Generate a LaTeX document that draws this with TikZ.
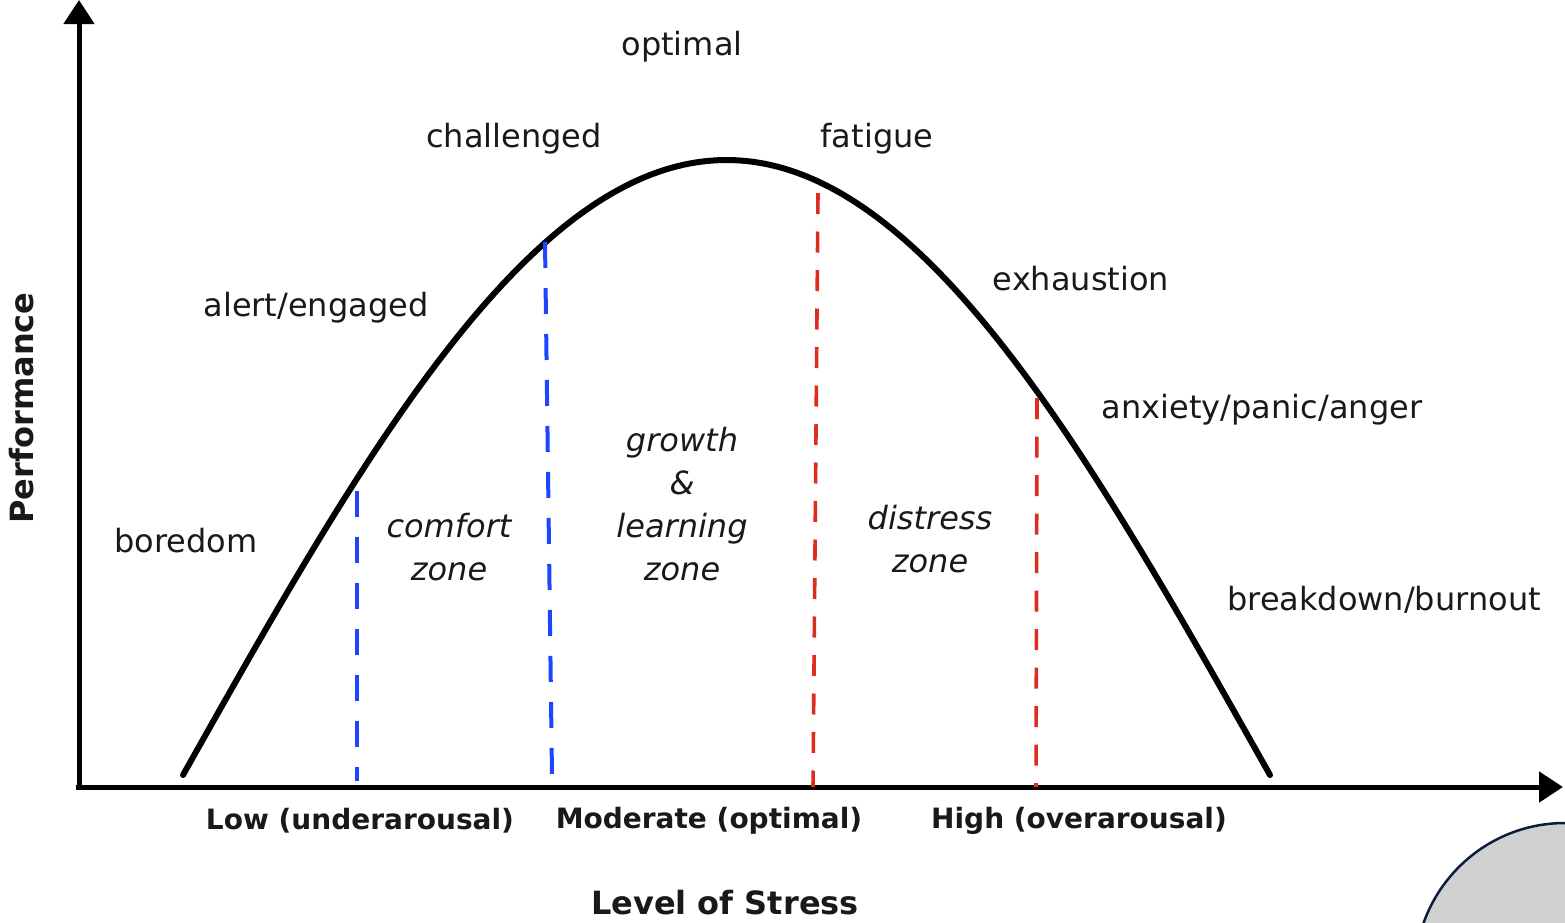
\documentclass[tikz,border=0pt]{standalone}
\usepackage{fontspec}
\setmainfont{DejaVu Sans}
\usetikzlibrary{arrows.meta}
\definecolor{zblue}{RGB}{30,70,255}
\definecolor{zred}{RGB}{220,45,30}
\definecolor{navy}{RGB}{10,30,60}
\definecolor{disk}{RGB}{208,208,208}
\definecolor{ink}{RGB}{25,25,25}
\begin{document}
\begin{tikzpicture}[x=1pt,y=-1pt,
  lbl/.style={font=\fontsize{32}{40}\selectfont, inner sep=0pt, text=ink},
  zonelbl/.style={font=\fontsize{32}{43}\selectfont\itshape, align=center, inner sep=0pt, text=ink},
  lvl/.style={font=\fontsize{28}{34}\selectfont\bfseries, inner sep=0pt, text=ink},
  axislbl/.style={font=\fontsize{32}{38}\selectfont\bfseries, inner sep=0pt, text=ink},
  axisline/.style={line width=5pt, -{Triangle[length=24pt,width=30pt]}},
  bdash/.style={zblue, line width=4pt, dash pattern=on 26pt off 20pt},
  rdash/.style={zred, line width=3.6pt, dash pattern=on 21pt off 17.5pt}]
\useasboundingbox (0,0) rectangle (1565,922);
\begin{scope}
\clip (0,0) rectangle (1565,922);
\node[circle, draw=navy, fill=disk, line width=2.5pt, minimum size=300pt, inner sep=0pt] (disc) at (1565,973) {};
\end{scope}
% axes
\coordinate (origin) at (79,787);
\coordinate (ytip) at (79,0);
\coordinate (xtip) at (1563,787);
\draw[axisline] (origin) -- (ytip);
\draw[axisline] ([xshift=-3pt]origin) -- (xtip);
% curve
\draw[line width=6pt, line cap=round] plot[domain=183:1270, samples=120, smooth] (\x, {775-615*cos((\x-726.5)/543.5*90)});
% dashed zone lines
\coordinate (b1t) at (357,491); \coordinate (b1b) at (357,781);
\coordinate (b2t) at (545,242); \coordinate (b2b) at (552,776);
\coordinate (r1t) at (818,193); \coordinate (r1b) at (813,787);
\coordinate (r2t) at (1037,398); \coordinate (r2b) at (1036,787);
\draw[bdash] (b1t) -- (b1b);
\draw[bdash] (b2t) -- (b2b);
\draw[rdash] (r1t) -- (r1b);
\draw[rdash] (r2t) -- (r2b);
% state labels
\node[lbl] (optimal) at (682,47) {optimal};
\node[lbl] (challenged) at (514,139) {challenged};
\node[lbl] (fatigue) at (877,139) {fatigue};
\node[lbl] (exhaustion) at (1081,279) {exhaustion};
\node[lbl] (alert) at (316,308) {alert/engaged};
\node[lbl] (anxiety) at (1262,410) {anxiety/panic/anger};
\node[lbl] (boredom) at (186,541) {boredom};
\node[lbl] (breakdown) at (1384,600) {breakdown/burnout};
% zones
\node[zonelbl] (comfort) at (449,547) {comfort\\zone};
\node[zonelbl] (growth) at (682,504) {growth\\\&\\learning\\zone};
\node[zonelbl] (distress) at (930,539) {distress\\zone};
% levels
\node[lvl] (low) at (360,821) {Low (underarousal)};
\node[lvl] (moderate) at (709,821) {Moderate (optimal)};
\node[lvl] (high) at (1079,821) {High (overarousal)};
\node[axislbl] (xlabel) at (725,903) {Level of Stress};
\node[axislbl, rotate=90] (ylabel) at (22,408) {Performance};
\end{tikzpicture}
\end{document}
